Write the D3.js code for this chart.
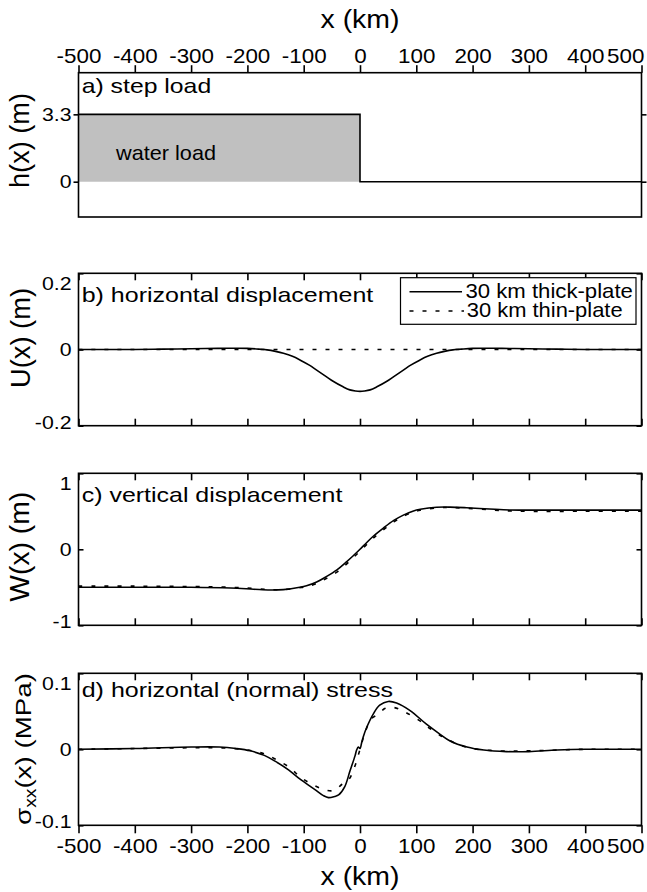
<!DOCTYPE html>
<html><head><meta charset="utf-8">
<script src="https://cdn.jsdelivr.net/npm/d3@7"></script>
<style>
body{margin:0;background:#fff}
svg{display:block}
text{font-family:"Liberation Sans",Arial,Helvetica,sans-serif;fill:#000}
</style>
</head><body>
<svg id="c" width="647" height="892"></svg>
<script>
// ---------------- data ----------------
const xTicks = [-500,-400,-300,-200,-100,0,100,200,300,400,500];

// a) step load
const loadX = [-500, 0, 0, 500];
const loadH = [3.3, 3.3, 0, 0];
const aTicks = [0, 3.3];
const aTickLabels = ["0", "3.3"];

// b) horizontal displacement U(x)
const uX =     [-500,-400,-350,-300,-250,-200,-180,-165,-150,-136,-120,-106,-90,-77,-60,-47,-30,-18,-8,0,8,18,30,47,60,77,90,106,120,136,150,165,180,200,250,300,350,400,500];
const uThick = [0,0,0.001,0.002,0.003,0.003,0.001,-0.001,-0.005,-0.010,-0.018,-0.028,-0.041,-0.054,-0.071,-0.084,-0.098,-0.106,-0.109,-0.110,-0.109,-0.106,-0.098,-0.084,-0.071,-0.054,-0.041,-0.028,-0.018,-0.010,-0.005,-0.001,0.001,0.003,0.003,0.002,0.001,0,0];
const uThinX = [-500,-250,0,250,500];
const uThin =  [0,0,0,0,0];
const bTicks = [-0.2, 0, 0.2];
const bTickLabels = ["-0.2", "0", "0.2"];

// c) vertical displacement W(x)
const wX =     [-500,-400,-300,-230,-189,-160,-136,-107,-95,-77,-60,-41,-24,-12,0,12,24,41,60,77,95,107,136,160,189,230,266,300,400,500];
const wThick = [-0.50,-0.50,-0.50,-0.51,-0.525,-0.535,-0.53,-0.50,-0.48,-0.43,-0.36,-0.27,-0.165,-0.085,0,0.09,0.175,0.276,0.38,0.45,0.505,0.526,0.553,0.555,0.547,0.53,0.517,0.515,0.515,0.515];
const wThin =  [-0.485,-0.485,-0.49,-0.50,-0.515,-0.53,-0.53,-0.505,-0.49,-0.45,-0.385,-0.30,-0.195,-0.11,-0.025,0.065,0.15,0.255,0.36,0.435,0.49,0.515,0.545,0.55,0.54,0.52,0.505,0.50,0.50,0.50];
const cTicks = [-1, 0, 1];
const cTickLabels = ["-1", "0", "1"];

// d) horizontal (normal) stress
const sX =     [-500,-400,-300,-250,-220,-195,-170,-151,-127,-107,-80,-65,-56,-45,-38,-27,-18,-9,-6,-3,0,3,6,12,24,35,50,65,89,118,140,160,190,220,260,300,350,400,500];
const sThick = [0,0.001,0.003,0.003,0.001,-0.002,-0.008,-0.0156,-0.027,-0.039,-0.053,-0.061,-0.0636,-0.062,-0.060,-0.049,-0.029,-0.009,-0.001,0.003,0.001,0.009,0.017,0.029,0.047,0.058,0.063,0.061,0.051,0.033,0.021,0.011,0.003,-0.001,-0.003,-0.003,-0.001,0,0];
const sThinX = [-500,-400,-300,-250,-200,-170,-150,-125,-105,-80,-60,-45,-32,-20,-9,0,9,20,32,45,60,80,105,125,150,170,200,250,300,400,500];
const sThin =  [0,0.001,0.002,0.002,-0.001,-0.006,-0.013,-0.024,-0.037,-0.048,-0.054,-0.054,-0.046,-0.040,-0.022,0,0.022,0.040,0.046,0.054,0.055,0.049,0.038,0.027,0.015,0.008,0.001,-0.002,-0.002,0,0];
const dTicks = [-0.1, 0, 0.1];
const dTickLabels = ["-0.1", "0", "0.1"];

const legendLabels = ["30 km thick-plate", "30 km thin-plate"];
const panelTitles = ["a) step load", "b) horizontal displacement", "c) vertical displacement", "d) horizontal (normal) stress"];

// ---------------- drawing ----------------
const svg = d3.select("#c");
const L = 78.5, R = 641.5;
const x = d3.scaleLinear().domain([-500, 500]).range([L, R]);
const LW = 1.6;

function label(parent, o) {
  const t = parent.append("text").attr("font-size", o.size).attr("text-anchor", o.anchor || "start").text(o.text);
  const nat = t.node().getComputedTextLength();
  const sx = o.width ? o.width / nat : (o.sx || 1);
  t.attr("transform", `translate(${o.x},${o.y}) rotate(${o.rot || 0}) scale(${sx},1)`);
  return t;
}

function styleTickText(sel, yPos) {
  sel.selectAll("text").attr("dy", null).attr("y", yPos).attr("font-size", 20)
    .attr("font-family", null).attr("fill", "#000").attr("transform", "scale(1.12,1)")
    .each(function(d) {
      if (d === 500) d3.select(this).attr("text-anchor", "end").attr("x", 2.2);
    });
}

const panels = [
  {top: 72.7, bottom: 217, domain: [-1.73, 5.34], ticks: aTicks, tl: aTickLabels, tickOut: true, topLabels: true},
  {top: 273.3, bottom: 425.7, domain: [-0.2, 0.2], ticks: bTicks, tl: bTickLabels},
  {top: 473.3, bottom: 625.3, domain: [-1, 1], ticks: cTicks, tl: cTickLabels},
  {top: 673.3, bottom: 825.3, domain: [-0.1, 0.1], ticks: dTicks, tl: dTickLabels, bottomLabels: true}
];

panels.forEach((p, i) => {
  p.y = d3.scaleLinear().domain(p.domain).range([p.bottom, p.top]);
  const g = svg.append("g");
  p.g = g;
  const cid = "clip" + i;
  svg.append("clipPath").attr("id", cid).append("rect")
    .attr("x", L).attr("y", p.top).attr("width", R - L).attr("height", p.bottom - p.top);
  p.plot = g.append("g").attr("clip-path", `url(#${cid})`);

  const topAx = d3.axisTop(x).tickValues(xTicks).tickSize(p.topLabels ? 7.5 : -7)
    .tickFormat(p.topLabels ? (d => String(d)) : "");
  const gt = g.append("g").attr("transform", `translate(0,${p.top})`).call(topAx);
  gt.select(".domain").remove();
  gt.selectAll("line").attr("stroke", "#000").attr("stroke-width", LW);
  if (p.topLabels) styleTickText(gt, -10);

  if (i > 0) {
    const botAx = d3.axisBottom(x).tickValues(xTicks).tickSize(p.bottomLabels ? 8 : -7)
      .tickFormat(p.bottomLabels ? (d => String(d)) : "");
    const gb = g.append("g").attr("transform", `translate(0,${p.bottom})`).call(botAx);
    gb.select(".domain").remove();
    gb.selectAll("line").attr("stroke", "#000").attr("stroke-width", LW);
    if (p.bottomLabels) styleTickText(gb, 28);
  }
  const ys = p.tickOut ? 5 : -5;
  const gl = g.append("g").attr("transform", `translate(${L},0)`)
    .call(d3.axisLeft(p.y).tickValues(p.ticks).tickSize(ys).tickFormat(""));
  gl.select(".domain").remove();
  gl.selectAll("line").attr("stroke", "#000").attr("stroke-width", LW);
  const gr = g.append("g").attr("transform", `translate(${R},0)`)
    .call(d3.axisRight(p.y).tickValues(p.ticks).tickSize(ys).tickFormat(""));
  gr.select(".domain").remove();
  gr.selectAll("line").attr("stroke", "#000").attr("stroke-width", LW);
  p.ticks.forEach((t, k) => {
    let off = 0;
    if (!p.tickOut) {
      if (t === p.domain[1]) off = 10;
      if (t === p.domain[0]) off = -4;
    }
    label(g, {x: 71.5, y: p.y(t) + off + 6.8, text: p.tl[k], size: 19, anchor: "end", sx: 1.12});
  });
});

// panel a content
{
  const p = panels[0];
  const area = d3.area().x(d => x(d[0])).y0(p.y(0)).y1(d => p.y(d[1]));
  p.plot.append("path").datum(d3.zip(loadX.slice(0, 2), loadH.slice(0, 2)))
    .attr("d", area).attr("fill", "#c0c0c0");
  const line = d3.line().x(d => x(d[0])).y(d => p.y(d[1]));
  p.plot.append("path").datum(d3.zip(loadX, loadH)).attr("d", line)
    .attr("fill", "none").attr("stroke", "#000").attr("stroke-width", LW);
  label(p.g, {x: 166, y: 160, text: "water load", size: 20, anchor: "middle", width: 100});
}

function curves(p, X, Ys, dashed) {
  const line = d3.line().x(d => x(d[0])).y(d => p.y(d[1])).curve(d3.curveCatmullRom.alpha(0.5));
  p.plot.append("path").datum(d3.zip(X, Ys)).attr("d", line)
    .attr("fill", "none").attr("stroke", "#000").attr("stroke-width", LW)
    .attr("stroke-dasharray", dashed ? "4,9" : null);
}
curves(panels[1], uThinX, uThin, true);
curves(panels[1], uX, uThick, false);
curves(panels[2], wX, wThin, true);
curves(panels[2], wX, wThick, false);
curves(panels[3], sThinX, sThin, true);
curves(panels[3], sX, sThick, false);

panels.forEach(p => {
  p.g.append("rect").attr("x", L).attr("y", p.top).attr("width", R - L).attr("height", p.bottom - p.top)
    .attr("fill", "none").attr("stroke", "#000").attr("stroke-width", LW);
});

const titleY = [93.3, 301.7, 501.7, 696.5];
const titleW = [129.5, 291.7, 260.7, 311.5];
panelTitles.forEach((t, i) => label(svg, {x: 81.7, y: titleY[i], text: t, size: 20.5, width: titleW[i]}));

// legend
{
  const lg = svg.append("g");
  lg.append("rect").attr("x", 400.5).attr("y", 277.7).attr("width", 235.5).attr("height", 46.6)
    .attr("fill", "#fff").attr("stroke", "#000").attr("stroke-width", 1.2);
  lg.append("line").attr("x1", 409.5).attr("x2", 462).attr("y1", 291.7).attr("y2", 291.7)
    .attr("stroke", "#000").attr("stroke-width", LW);
  lg.append("line").attr("x1", 409.5).attr("x2", 464).attr("y1", 311).attr("y2", 311)
    .attr("stroke", "#000").attr("stroke-width", LW).attr("stroke-dasharray", "4,9");
  label(lg, {x: 465.5, y: 298.3, text: legendLabels[0], size: 20.5, width: 167.5});
  label(lg, {x: 466.7, y: 317.3, text: legendLabels[1], size: 20.5, width: 156});
}

// axis titles
label(svg, {x: 360, y: 28, text: "x (km)", size: 25, anchor: "middle", width: 79});
label(svg, {x: 360, y: 885, text: "x (km)", size: 25, anchor: "middle", width: 79});
label(svg, {x: 29.3, y: 140.5, text: "h(x) (m)", size: 27, anchor: "middle", rot: -90, width: 95});
label(svg, {x: 29.5, y: 338, text: "U(x) (m)", size: 27, anchor: "middle", rot: -90, width: 100});
label(svg, {x: 29.3, y: 546.7, text: "W(x) (m)", size: 27, anchor: "middle", rot: -90, width: 110});
{
  const t = svg.append("text").attr("font-size", 23).attr("text-anchor", "middle");
  t.append("tspan").text("σ");
  t.append("tspan").attr("font-size", 16).attr("dy", 5).text("xx");
  t.append("tspan").attr("dy", -5).text("(x) (MPa)");
  const nat = t.node().getComputedTextLength();
  t.attr("transform", `translate(30.5,749) rotate(-90) scale(${152 / nat},1)`);
}
</script>
</body></html>
